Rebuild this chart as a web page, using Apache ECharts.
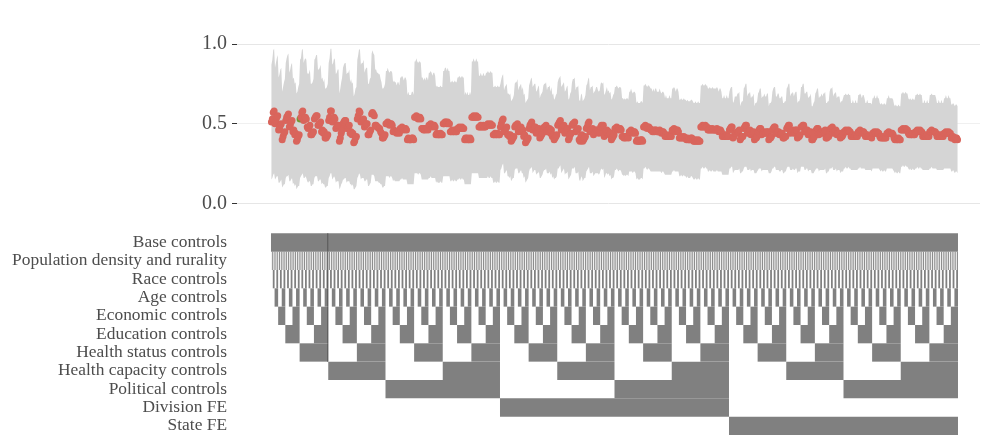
<!DOCTYPE html>
<html><head><meta charset="utf-8">
<script src="https://cdn.jsdelivr.net/npm/echarts@6/dist/echarts.min.js"></script>
<style>html,body{margin:0;padding:0;background:#fff}#c{width:984px;height:438px}</style>
</head><body><div id="c"></div>
<script>
// ---- categories ----
const rowLabels = ['Base controls','Population density and rurality','Race controls','Age controls',
  'Economic controls','Education controls','Health status controls','Health capacity controls',
  'Political controls','Division FE','State FE'];
const alwaysOnRows = ['Base controls'];
// controls toggled within each fixed-effect block, fastest-changing first
const toggleRows = ['Population density and rurality','Race controls','Age controls','Economic controls',
  'Education controls','Health status controls','Health capacity controls','Political controls'];
const feBlocks = [null,'Division FE','State FE'];
const yTickLabels = [0, 0.5, 1.0];
const highlightPointSpec = 32;
const highlightColumnSpec = 63;

// ---- estimates (hundredths), specification order ----
const estimateNoFE = [
51,53,57,58,50,52,54,55,46,47,49,50,40,42,44,45,52,54,55,56,48,49,51,52,45,46,43,44,39,40,42,43,
53,54,57,58,52,53,54,53,48,47,48,49,43,43,44,45,53,54,55,55,49,49,50,51,45,46,44,45,41,41,42,43,
52,54,58,58,51,52,54,53,47,48,49,49,39,41,44,46,50,51,52,52,47,48,48,49,44,45,43,44,38,39,41,42,
53,55,58,57,51,52,52,53,48,49,50,50,43,43,45,46,56,57,56,55,49,49,48,48,47,47,45,44,41,41,42,43,
50,50,51,50,49,50,50,49,45,46,45,45,44,45,45,44,47,47,48,47,46,47,47,46,40,41,40,40,40,41,41,40,
54,54,55,54,53,54,54,53,47,47,46,47,46,47,47,46,49,49,50,49,48,49,49,48,43,44,43,43,43,44,43,43,
50,50,51,51,50,51,50,50,45,45,46,45,45,46,45,45,47,47,48,47,47,48,47,47,40,41,40,41,40,40,41,40,
54,54,55,54,54,55,54,54,48,48,49,48,48,49,48,48,49,49,50,49,49,50,49,49,43,43,44,43,43,44,43,43];
const estimateDivisionFE = [
48,50,52,53,45,46,47,48,43,43,42,43,39,40,41,42,48,49,49,50,45,46,47,48,45,46,42,43,38,39,40,41,
47,49,50,51,46,47,48,48,44,45,46,47,41,42,43,44,47,48,48,49,45,46,46,47,44,46,42,43,40,41,42,43,
49,50,51,52,46,47,48,49,44,45,46,47,40,41,43,44,49,50,50,51,45,46,46,47,40,39,42,43,39,40,41,42,
47,48,50,51,45,46,46,47,43,44,45,46,46,45,44,45,48,49,48,49,42,43,45,46,44,45,43,44,40,41,42,43,
47,47,48,47,46,47,47,46,42,42,41,42,41,42,42,41,45,45,46,45,44,45,45,44,39,40,39,39,39,40,40,39,
48,48,49,48,47,48,48,47,46,46,45,46,45,46,46,45,45,45,46,45,44,45,45,44,42,43,42,42,42,43,42,42,
46,46,47,46,45,46,46,45,41,41,42,41,41,42,41,41,40,41,40,40,40,41,41,40,39,39,40,39,39,40,39,39,
48,48,49,48,48,49,48,48,46,46,47,46,46,47,46,46,46,46,47,46,45,46,46,45,42,42,43,42,42,43,42,42];
const estimateStateFE = [
46,47,48,48,41,42,44,44,44,45,45,46,40,41,42,42,47,48,49,49,44,45,45,46,43,44,44,45,40,41,41,42,
45,46,47,47,43,44,44,45,44,44,45,45,40,41,41,42,46,47,48,48,44,44,45,45,43,43,44,44,41,41,42,42,
47,48,49,49,44,45,45,46,44,45,46,46,41,42,42,43,48,48,49,49,45,45,46,46,43,44,44,45,40,40,41,42,
45,46,47,47,43,44,44,45,44,45,45,46,41,41,42,42,46,47,47,48,44,45,45,46,43,44,44,44,41,42,42,43,
45,45,46,45,45,46,45,45,42,42,43,42,42,43,42,42,45,45,46,45,44,45,45,44,42,42,43,42,42,42,42,41,
44,44,45,44,44,45,44,44,42,41,42,41,41,42,41,41,44,44,45,44,44,44,44,43,41,40,41,40,40,41,40,40,
46,46,47,46,46,47,46,46,44,43,44,43,43,44,43,43,45,45,46,45,45,46,45,45,42,42,43,42,42,43,42,42,
45,45,46,45,45,45,45,44,42,42,43,42,42,43,42,42,44,44,45,44,44,45,44,44,41,41,42,41,40,41,41,40];

// ---- confidence-interval half widths (hundredths) ----
const ciHalfNoFE = [
36,37,39,39,35,36,37,38,33,34,35,35,30,31,32,33,36,37,38,38,34,35,36,36,33,33,32,32,30,30,31,32,
37,37,39,39,36,37,37,37,34,34,34,35,32,32,32,33,37,37,38,38,35,35,35,36,33,33,32,33,31,31,31,32,
36,37,39,39,36,36,37,37,34,34,35,35,30,31,32,33,35,36,36,36,34,34,34,35,32,33,32,32,29,30,31,31,
37,38,39,39,36,36,36,37,34,35,35,35,32,32,33,33,38,39,38,38,35,35,34,34,34,34,33,32,31,31,31,32,
33,33,34,33,33,33,33,33,31,31,31,31,30,31,31,30,32,32,32,32,31,32,32,31,28,29,28,28,28,29,29,28,
35,35,36,35,35,35,35,35,32,32,31,32,31,32,32,31,33,33,33,33,32,33,33,32,30,30,30,30,30,30,30,30,
33,33,34,34,33,34,33,33,31,31,31,31,31,31,31,31,32,32,32,32,32,32,32,32,28,29,28,29,28,28,29,28,
35,35,36,35,35,36,35,35,32,32,33,32,32,33,32,32,33,33,33,33,33,33,33,33,30,30,30,30,30,30,30,30];
const ciHalfDivisionFE = [
27,28,28,28,26,27,27,27,26,26,26,26,25,25,25,26,27,27,27,28,26,27,27,27,26,27,26,26,25,25,25,25,
27,27,28,28,27,27,27,27,26,26,27,27,25,26,26,26,27,27,27,27,26,27,27,27,26,27,26,26,25,25,26,26,
27,28,28,28,27,27,27,27,26,26,27,27,25,25,26,26,27,28,28,28,26,27,27,27,25,25,26,26,25,25,25,26,
27,27,28,28,26,27,27,27,26,26,26,27,27,26,26,26,27,27,27,27,26,26,26,27,26,26,26,26,25,25,26,26,
26,26,26,26,26,26,26,26,24,24,24,24,24,24,24,24,25,25,26,25,25,25,25,25,24,24,24,24,24,24,24,24,
26,26,26,26,26,26,26,26,26,26,25,26,25,26,26,25,25,25,26,25,25,25,25,25,24,25,24,24,24,25,24,24,
26,26,26,26,25,26,26,25,24,24,24,24,24,24,24,24,24,24,24,24,24,24,24,24,24,24,24,24,24,24,24,24,
26,26,26,26,26,26,26,26,26,26,26,26,26,26,26,26,26,26,26,26,25,26,26,25,24,24,25,24,24,25,24,24];
const ciHalfStateFE = [
24,25,25,25,22,22,23,23,23,24,24,24,21,22,22,22,25,25,26,26,23,24,24,24,23,23,23,24,21,22,22,22,
24,24,25,25,23,23,23,24,23,23,24,24,21,22,22,22,24,25,25,25,23,23,24,24,23,23,23,23,22,22,22,22,
25,25,26,26,23,24,24,24,23,24,24,24,22,22,22,23,25,25,26,26,24,24,24,24,23,23,23,24,21,21,22,22,
24,24,25,25,23,23,23,24,23,24,24,24,22,22,22,22,24,25,25,25,23,24,24,24,23,23,23,23,22,22,22,23,
23,23,23,23,23,23,23,23,21,21,22,21,21,22,21,21,23,23,23,23,22,23,23,22,21,21,22,21,21,21,21,21,
22,22,23,22,22,23,22,22,21,21,21,21,21,21,21,21,22,22,23,22,22,22,22,22,21,21,21,21,21,21,21,21,
23,23,23,23,23,23,23,23,22,22,22,22,22,22,22,22,23,23,23,23,23,23,23,23,21,21,22,21,21,22,21,21,
23,23,23,23,23,23,23,22,21,21,22,21,21,22,21,21,22,22,23,22,22,23,22,22,21,21,21,21,21,21,21,21];

// ---- build tables ----
const est = [].concat(estimateNoFE, estimateDivisionFE, estimateStateFE).map(v => v / 100);
const half = [].concat(ciHalfNoFE, ciHalfDivisionFE, ciHalfStateFE).map(v => v / 100);
const n = est.length;
const perBlock = n / feBlocks.length;
const on = rowLabels.map(() => new Array(n).fill(false));
for (let i = 0; i < n; i++) {
  const b = Math.floor(i / perBlock), j = i % perBlock;
  alwaysOnRows.forEach(r => { on[rowLabels.indexOf(r)][i] = true; });
  toggleRows.forEach((r, k) => { if ((j >> k) & 1) on[rowLabels.indexOf(r)][i] = true; });
  if (feBlocks[b]) on[rowLabels.indexOf(feBlocks[b])][i] = true;
}
const runs = [];
rowLabels.forEach((r, ri) => {
  let s = -1;
  for (let i = 0; i <= n; i++) {
    const v = i < n && on[ri][i];
    if (v && s < 0) s = i;
    if (!v && s >= 0) { runs.push([s, i - 1, ri, 0]); s = -1; }
  }
  if (on[ri][highlightColumnSpec]) runs.push([highlightColumnSpec, highlightColumnSpec, ri, 1]);
});

const serif = 'Liberation Serif';
const xMin = -38.5, xMax = 792.1;
const chart = echarts.init(document.getElementById('c'), null, {renderer: 'canvas'});
chart.setOption({
  animation: false,
  grid: [
    {left: 237, right: 4, top: 4, height: 199.5},
    {left: 237, right: 4, top: 233.3, height: 201.7}
  ],
  xAxis: [
    {type: 'value', gridIndex: 0, min: xMin, max: xMax, show: false},
    {type: 'value', gridIndex: 1, min: xMin, max: xMax, show: false}
  ],
  yAxis: [
    {type: 'value', gridIndex: 0, min: 0, max: 1.25, interval: 0.25, position: 'left',
     axisLine: {show: false, onZero: false},
     axisTick: {show: true, customValues: yTickLabels, length: 5, lineStyle: {color: '#333', width: 1}},
     axisLabel: {customValues: yTickLabels, formatter: v => v.toFixed(1), fontFamily: serif, fontSize: 20, color: '#4d4d4d', margin: 10},
     splitLine: {show: true, lineStyle: {color: ['#e6e6e6', '#f0f0f0'], width: 1}}},
    {type: 'category', gridIndex: 1, data: rowLabels, inverse: true, position: 'left',
     axisLine: {show: false, onZero: false}, axisTick: {show: false}, splitLine: {show: false},
     axisLabel: {interval: 0, fontFamily: serif, fontSize: 17.4, color: '#4d4d4d', margin: 10}}
  ],
  series: [
    {type: 'custom', xAxisIndex: 0, yAxisIndex: 0, z: 1, silent: true,
     data: [[0, 0]],
     renderItem: (params, api) => {
       const pts = [];
       for (let i = 0; i < n; i++) pts.push(api.coord([i, est[i] + half[i]]));
       for (let i = n - 1; i >= 0; i--) pts.push(api.coord([i, est[i] - half[i]]));
       return {type: 'polygon', shape: {points: pts}, style: {fill: '#d5d5d5'}};
     }},
    {type: 'scatter', xAxisIndex: 0, yAxisIndex: 0, z: 3, symbolSize: 7,
     itemStyle: {color: '#d9655c', opacity: 1},
     data: est.map((e, i) => i === highlightPointSpec
       ? {value: [i, e], itemStyle: {color: '#6e9a2f'}} : [i, e])},
    {type: 'custom', xAxisIndex: 1, yAxisIndex: 1, silent: true,
     data: runs,
     renderItem: (params, api) => {
       const s = api.value(0), e = api.value(1), r = api.value(2), hl = api.value(3);
       const p0 = api.coord([s - 0.5, r]);
       const p1 = api.coord([e + 0.5, r]);
       const h = api.size([0, 1])[1];
       return {type: 'rect', shape: {x: p0[0], y: p0[1] - h / 2, width: p1[0] - p0[0], height: h},
               style: {fill: hl ? '#505050' : '#808080'}};
     }}
  ]
});
</script></body></html>
